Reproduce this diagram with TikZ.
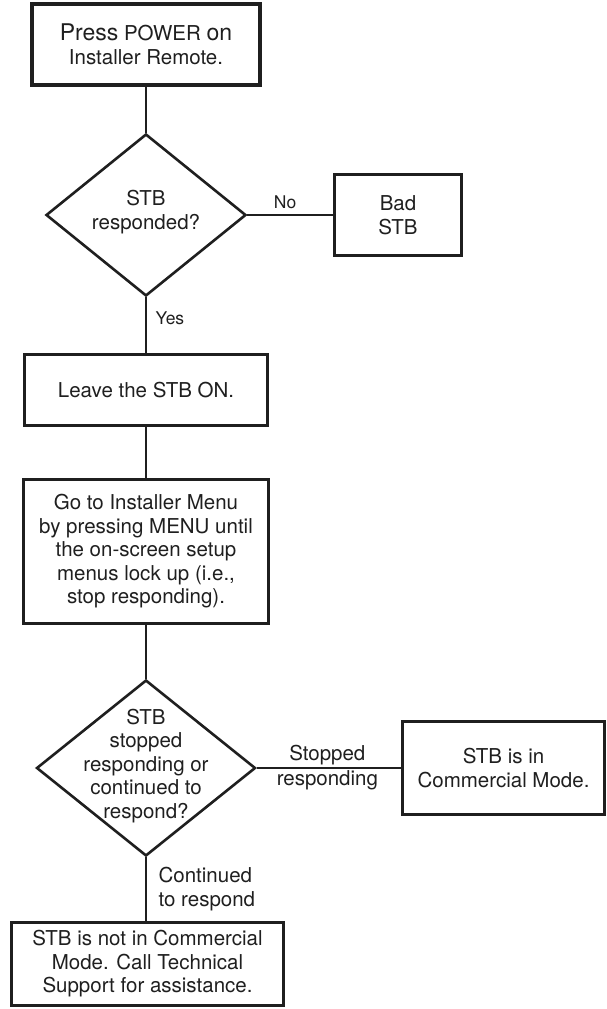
\documentclass[tikz,border=0pt]{standalone}
\usepackage{fontspec}
\setmainfont{TeX Gyre Heros}
\usetikzlibrary{positioning,shapes.geometric}
\definecolor{inkgray}{gray}{0.12}

\begin{document}
\begin{tikzpicture}[
  x=1pt,y=-1pt,
  every node/.style={font=\fontsize{20.5}{23.5}\selectfont,text=inkgray},
  box/.style={draw=inkgray,line width=3.2pt,align=center,inner sep=0pt},
  decision/.style={draw=inkgray,diamond,line width=2.6pt,inner sep=0pt},
  small/.style={font=\fontsize{17.5}{20}\selectfont,inner sep=0pt},
  tag/.style={align=left,inner sep=0pt},
  link/.style={draw=inkgray,line width=1.3pt}
]
  \useasboundingbox (0,0) rectangle (607,1009);

  % start
  \node[box,minimum width=228pt,minimum height=81pt] (power) at (146,44.5)
    {{\fontsize{23}{23.5}\selectfont Press} POWER {\fontsize{23}{23.5}\selectfont on}\\ Installer Remote.};

  % first decision
  \node[decision,minimum width=200pt,minimum height=162pt,
    label={[align=center,yshift=3pt]center:STB\\ responded?}] (resp) at (146,215) {};
  \node[box,minimum width=127pt,minimum height=81pt] (bad) at (398,215) {Bad\\ STB};

  % middle steps
  \node[box,minimum width=243pt,minimum height=71pt] (leave) at (146,390) {Leave the STB ON.};
  \node[box,minimum width=245pt,minimum height=144pt] (menu) at (146,551.5)
    {Go to Installer Menu\\ by pressing MENU until\\ the on-screen setup\\ menus lock up (i.e.,\\ stop responding).};

  % second decision
  \node[decision,minimum width=219pt,minimum height=176pt,
    label={[align=center,yshift=2pt]center:STB\\ stopped\\ responding or\\ continued to\\ respond?}] (lock) at (146,768) {};
  \node[box,minimum width=202pt,minimum height=93pt] (comm) at (503.5,768) {STB is in\\ Commercial Mode.};
  \node[box,minimum width=272pt,minimum height=83pt] (notcomm) at (147.5,964)
    {STB is not in Commercial\\ Mode. Call Technical\\ Support for assistance.};

  \draw[link] (power) -- (resp);
  \draw[link] (resp) -- node[small,midway,above=6pt,xshift=-5pt] {No} (bad);
  \draw[link] (resp) -- node[small,midway,right=9pt,yshift=6.5pt] {Yes} (leave);
  \draw[link] (leave) -- (menu);
  \draw[link] (menu) -- (lock);
  \draw[link] (lock) -- node[midway,align=center,inner sep=0pt,
    font=\fontsize{20.5}{25}\selectfont,xshift=-1.5pt] {Stopped\\ responding} (comm);
  \draw[link] (lock.south) -- node[tag,midway,right=12pt] {Continued\\ to respond} (lock.south |- notcomm.north);
\end{tikzpicture}
\end{document}
